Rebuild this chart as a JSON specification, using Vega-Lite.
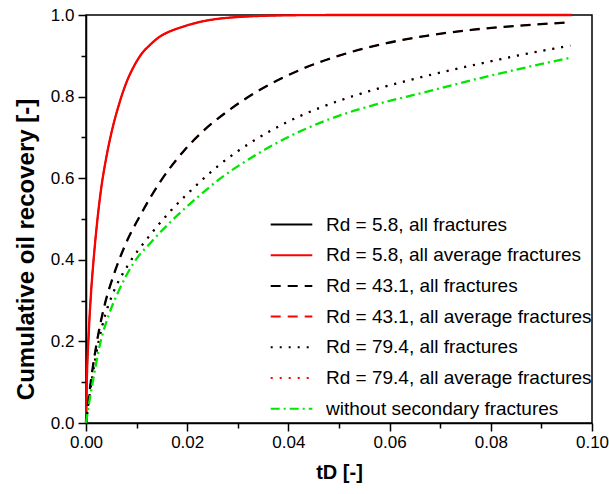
{
  "$schema": "https://vega.github.io/schema/vega-lite/v6.json",
  "width": 506,
  "height": 408,
  "autosize": {"type": "none"},
  "padding": {"left": 86, "top": 15, "right": 17, "bottom": 71},
  "background": "white",
  "config": {"view": {"stroke": "black", "strokeWidth": 1.5}, "font": "Liberation Sans"},
  "datasets": {
    "curves": [
      {"s": "Rd = 5.8, all fractures", "t": 0, "r": 0},
      {"s": "Rd = 5.8, all fractures", "t": 0.0002, "r": 0.12},
      {"s": "Rd = 5.8, all fractures", "t": 0.0005, "r": 0.21},
      {"s": "Rd = 5.8, all fractures", "t": 0.001, "r": 0.32},
      {"s": "Rd = 5.8, all fractures", "t": 0.0015, "r": 0.40},
      {"s": "Rd = 5.8, all fractures", "t": 0.0021, "r": 0.48},
      {"s": "Rd = 5.8, all fractures", "t": 0.003, "r": 0.575},
      {"s": "Rd = 5.8, all fractures", "t": 0.004, "r": 0.65},
      {"s": "Rd = 5.8, all fractures", "t": 0.005, "r": 0.71},
      {"s": "Rd = 5.8, all fractures", "t": 0.0065, "r": 0.78},
      {"s": "Rd = 5.8, all fractures", "t": 0.008, "r": 0.835},
      {"s": "Rd = 5.8, all fractures", "t": 0.0095, "r": 0.875},
      {"s": "Rd = 5.8, all fractures", "t": 0.011, "r": 0.905},
      {"s": "Rd = 5.8, all fractures", "t": 0.0125, "r": 0.925},
      {"s": "Rd = 5.8, all fractures", "t": 0.0146, "r": 0.947},
      {"s": "Rd = 5.8, all fractures", "t": 0.0166, "r": 0.96},
      {"s": "Rd = 5.8, all fractures", "t": 0.0186, "r": 0.969},
      {"s": "Rd = 5.8, all fractures", "t": 0.0225, "r": 0.983},
      {"s": "Rd = 5.8, all fractures", "t": 0.0263, "r": 0.991},
      {"s": "Rd = 5.8, all fractures", "t": 0.03, "r": 0.995},
      {"s": "Rd = 5.8, all fractures", "t": 0.035, "r": 0.998},
      {"s": "Rd = 5.8, all fractures", "t": 0.042, "r": 0.9995},
      {"s": "Rd = 5.8, all fractures", "t": 0.05, "r": 1},
      {"s": "Rd = 5.8, all fractures", "t": 0.07, "r": 1},
      {"s": "Rd = 5.8, all fractures", "t": 0.096, "r": 1},
      {"s": "Rd = 5.8, all average fractures", "t": 0, "r": 0},
      {"s": "Rd = 5.8, all average fractures", "t": 0.0002, "r": 0.12},
      {"s": "Rd = 5.8, all average fractures", "t": 0.0005, "r": 0.21},
      {"s": "Rd = 5.8, all average fractures", "t": 0.001, "r": 0.32},
      {"s": "Rd = 5.8, all average fractures", "t": 0.0015, "r": 0.40},
      {"s": "Rd = 5.8, all average fractures", "t": 0.0021, "r": 0.48},
      {"s": "Rd = 5.8, all average fractures", "t": 0.003, "r": 0.575},
      {"s": "Rd = 5.8, all average fractures", "t": 0.004, "r": 0.65},
      {"s": "Rd = 5.8, all average fractures", "t": 0.005, "r": 0.71},
      {"s": "Rd = 5.8, all average fractures", "t": 0.0065, "r": 0.78},
      {"s": "Rd = 5.8, all average fractures", "t": 0.008, "r": 0.835},
      {"s": "Rd = 5.8, all average fractures", "t": 0.0095, "r": 0.875},
      {"s": "Rd = 5.8, all average fractures", "t": 0.011, "r": 0.905},
      {"s": "Rd = 5.8, all average fractures", "t": 0.0125, "r": 0.925},
      {"s": "Rd = 5.8, all average fractures", "t": 0.0146, "r": 0.947},
      {"s": "Rd = 5.8, all average fractures", "t": 0.0166, "r": 0.96},
      {"s": "Rd = 5.8, all average fractures", "t": 0.0186, "r": 0.969},
      {"s": "Rd = 5.8, all average fractures", "t": 0.0225, "r": 0.983},
      {"s": "Rd = 5.8, all average fractures", "t": 0.0263, "r": 0.991},
      {"s": "Rd = 5.8, all average fractures", "t": 0.03, "r": 0.995},
      {"s": "Rd = 5.8, all average fractures", "t": 0.035, "r": 0.998},
      {"s": "Rd = 5.8, all average fractures", "t": 0.042, "r": 0.9995},
      {"s": "Rd = 5.8, all average fractures", "t": 0.05, "r": 1},
      {"s": "Rd = 5.8, all average fractures", "t": 0.07, "r": 1},
      {"s": "Rd = 5.8, all average fractures", "t": 0.096, "r": 1},
      {"s": "Rd = 43.1, all average fractures", "t": 0, "r": 0},
      {"s": "Rd = 43.1, all average fractures", "t": 0.0005, "r": 0.056},
      {"s": "Rd = 43.1, all average fractures", "t": 0.0011, "r": 0.115},
      {"s": "Rd = 43.1, all average fractures", "t": 0.0021, "r": 0.195},
      {"s": "Rd = 43.1, all average fractures", "t": 0.0038, "r": 0.295},
      {"s": "Rd = 43.1, all average fractures", "t": 0.0054, "r": 0.36},
      {"s": "Rd = 43.1, all average fractures", "t": 0.0077, "r": 0.435},
      {"s": "Rd = 43.1, all average fractures", "t": 0.011, "r": 0.515},
      {"s": "Rd = 43.1, all average fractures", "t": 0.0146, "r": 0.59},
      {"s": "Rd = 43.1, all average fractures", "t": 0.0192, "r": 0.665},
      {"s": "Rd = 43.1, all average fractures", "t": 0.0231, "r": 0.715},
      {"s": "Rd = 43.1, all average fractures", "t": 0.0283, "r": 0.767},
      {"s": "Rd = 43.1, all average fractures", "t": 0.0343, "r": 0.816},
      {"s": "Rd = 43.1, all average fractures", "t": 0.0422, "r": 0.865},
      {"s": "Rd = 43.1, all average fractures", "t": 0.0515, "r": 0.906},
      {"s": "Rd = 43.1, all average fractures", "t": 0.0594, "r": 0.931},
      {"s": "Rd = 43.1, all average fractures", "t": 0.0673, "r": 0.949},
      {"s": "Rd = 43.1, all average fractures", "t": 0.0765, "r": 0.964},
      {"s": "Rd = 43.1, all average fractures", "t": 0.0858, "r": 0.974},
      {"s": "Rd = 43.1, all average fractures", "t": 0.0957, "r": 0.982},
      {"s": "Rd = 43.1, all fractures", "t": 0, "r": 0},
      {"s": "Rd = 43.1, all fractures", "t": 0.0005, "r": 0.056},
      {"s": "Rd = 43.1, all fractures", "t": 0.0011, "r": 0.115},
      {"s": "Rd = 43.1, all fractures", "t": 0.0021, "r": 0.195},
      {"s": "Rd = 43.1, all fractures", "t": 0.0038, "r": 0.295},
      {"s": "Rd = 43.1, all fractures", "t": 0.0054, "r": 0.36},
      {"s": "Rd = 43.1, all fractures", "t": 0.0077, "r": 0.435},
      {"s": "Rd = 43.1, all fractures", "t": 0.011, "r": 0.515},
      {"s": "Rd = 43.1, all fractures", "t": 0.0146, "r": 0.59},
      {"s": "Rd = 43.1, all fractures", "t": 0.0192, "r": 0.665},
      {"s": "Rd = 43.1, all fractures", "t": 0.0231, "r": 0.715},
      {"s": "Rd = 43.1, all fractures", "t": 0.0283, "r": 0.767},
      {"s": "Rd = 43.1, all fractures", "t": 0.0343, "r": 0.816},
      {"s": "Rd = 43.1, all fractures", "t": 0.0422, "r": 0.865},
      {"s": "Rd = 43.1, all fractures", "t": 0.0515, "r": 0.906},
      {"s": "Rd = 43.1, all fractures", "t": 0.0594, "r": 0.931},
      {"s": "Rd = 43.1, all fractures", "t": 0.0673, "r": 0.949},
      {"s": "Rd = 43.1, all fractures", "t": 0.0765, "r": 0.964},
      {"s": "Rd = 43.1, all fractures", "t": 0.0858, "r": 0.974},
      {"s": "Rd = 43.1, all fractures", "t": 0.0957, "r": 0.982},
      {"s": "Rd = 79.4, all average fractures", "t": 0, "r": 0},
      {"s": "Rd = 79.4, all average fractures", "t": 0.0005, "r": 0.05},
      {"s": "Rd = 79.4, all average fractures", "t": 0.0012, "r": 0.11},
      {"s": "Rd = 79.4, all average fractures", "t": 0.0025, "r": 0.2},
      {"s": "Rd = 79.4, all average fractures", "t": 0.0038, "r": 0.265},
      {"s": "Rd = 79.4, all average fractures", "t": 0.0054, "r": 0.32},
      {"s": "Rd = 79.4, all average fractures", "t": 0.0082, "r": 0.385},
      {"s": "Rd = 79.4, all average fractures", "t": 0.0123, "r": 0.455},
      {"s": "Rd = 79.4, all average fractures", "t": 0.0166, "r": 0.518},
      {"s": "Rd = 79.4, all average fractures", "t": 0.0215, "r": 0.579},
      {"s": "Rd = 79.4, all average fractures", "t": 0.0263, "r": 0.632},
      {"s": "Rd = 79.4, all average fractures", "t": 0.0329, "r": 0.69},
      {"s": "Rd = 79.4, all average fractures", "t": 0.0395, "r": 0.736},
      {"s": "Rd = 79.4, all average fractures", "t": 0.0461, "r": 0.772},
      {"s": "Rd = 79.4, all average fractures", "t": 0.0515, "r": 0.796},
      {"s": "Rd = 79.4, all average fractures", "t": 0.0581, "r": 0.821},
      {"s": "Rd = 79.4, all average fractures", "t": 0.0667, "r": 0.849},
      {"s": "Rd = 79.4, all average fractures", "t": 0.0765, "r": 0.877},
      {"s": "Rd = 79.4, all average fractures", "t": 0.0851, "r": 0.9},
      {"s": "Rd = 79.4, all average fractures", "t": 0.0957, "r": 0.925},
      {"s": "Rd = 79.4, all fractures", "t": 0, "r": 0},
      {"s": "Rd = 79.4, all fractures", "t": 0.0005, "r": 0.05},
      {"s": "Rd = 79.4, all fractures", "t": 0.0012, "r": 0.11},
      {"s": "Rd = 79.4, all fractures", "t": 0.0025, "r": 0.2},
      {"s": "Rd = 79.4, all fractures", "t": 0.0038, "r": 0.265},
      {"s": "Rd = 79.4, all fractures", "t": 0.0054, "r": 0.32},
      {"s": "Rd = 79.4, all fractures", "t": 0.0082, "r": 0.385},
      {"s": "Rd = 79.4, all fractures", "t": 0.0123, "r": 0.455},
      {"s": "Rd = 79.4, all fractures", "t": 0.0166, "r": 0.518},
      {"s": "Rd = 79.4, all fractures", "t": 0.0215, "r": 0.579},
      {"s": "Rd = 79.4, all fractures", "t": 0.0263, "r": 0.632},
      {"s": "Rd = 79.4, all fractures", "t": 0.0329, "r": 0.69},
      {"s": "Rd = 79.4, all fractures", "t": 0.0395, "r": 0.736},
      {"s": "Rd = 79.4, all fractures", "t": 0.0461, "r": 0.772},
      {"s": "Rd = 79.4, all fractures", "t": 0.0515, "r": 0.796},
      {"s": "Rd = 79.4, all fractures", "t": 0.0581, "r": 0.821},
      {"s": "Rd = 79.4, all fractures", "t": 0.0667, "r": 0.849},
      {"s": "Rd = 79.4, all fractures", "t": 0.0765, "r": 0.877},
      {"s": "Rd = 79.4, all fractures", "t": 0.0851, "r": 0.9},
      {"s": "Rd = 79.4, all fractures", "t": 0.0957, "r": 0.925},
      {"s": "without secondary fractures", "t": 0, "r": 0},
      {"s": "without secondary fractures", "t": 0.0005, "r": 0.04},
      {"s": "without secondary fractures", "t": 0.0014, "r": 0.105},
      {"s": "without secondary fractures", "t": 0.0028, "r": 0.195},
      {"s": "without secondary fractures", "t": 0.0045, "r": 0.265},
      {"s": "without secondary fractures", "t": 0.0064, "r": 0.322},
      {"s": "without secondary fractures", "t": 0.0093, "r": 0.39},
      {"s": "without secondary fractures", "t": 0.013, "r": 0.445},
      {"s": "without secondary fractures", "t": 0.0173, "r": 0.5},
      {"s": "without secondary fractures", "t": 0.0222, "r": 0.555},
      {"s": "without secondary fractures", "t": 0.0263, "r": 0.597},
      {"s": "without secondary fractures", "t": 0.0329, "r": 0.652},
      {"s": "without secondary fractures", "t": 0.0395, "r": 0.698},
      {"s": "without secondary fractures", "t": 0.0461, "r": 0.735},
      {"s": "without secondary fractures", "t": 0.0514, "r": 0.759},
      {"s": "without secondary fractures", "t": 0.0568, "r": 0.779},
      {"s": "without secondary fractures", "t": 0.0667, "r": 0.81},
      {"s": "without secondary fractures", "t": 0.0765, "r": 0.841},
      {"s": "without secondary fractures", "t": 0.0864, "r": 0.87},
      {"s": "without secondary fractures", "t": 0.0957, "r": 0.895}
    ]
  },
  "data": {"name": "curves"},
  "layer": [
    {
      "encoding": {
        "x": {
          "field": "t", "type": "quantitative",
          "scale": {"domain": [0, 0.1], "nice": false, "zero": false},
          "axis": {
            "values": [0, 0.02, 0.04, 0.06, 0.08, 0.1],
            "format": ".2f",
            "labelFont": "Liberation Sans", "labelFontSize": 17, "labelColor": "black",
            "labelPadding": 3, "labelFlush": false,
            "tickColor": "black", "tickSize": 8, "tickWidth": 1.5,
            "domainColor": "black", "domainWidth": 1.5, "grid": false,
            "title": "tD [-]", "titleFont": "Liberation Sans", "titleFontSize": 20,
            "titleFontWeight": "bold", "titleColor": "black", "titlePadding": 12
          }
        },
        "y": {
          "field": "r", "type": "quantitative",
          "scale": {"domain": [0, 1], "nice": false},
          "axis": {
            "values": [0, 0.2, 0.4, 0.6, 0.8, 1.0],
            "format": ".1f",
            "labelFont": "Liberation Sans", "labelFontSize": 17, "labelColor": "black",
            "labelPadding": 4, "labelFlush": false,
            "tickColor": "black", "tickSize": 8, "tickWidth": 1.5,
            "domainColor": "black", "domainWidth": 1.5, "grid": false,
            "title": "Cumulative oil recovery [-]", "titleFont": "Liberation Sans",
            "titleFontSize": 24, "titleFontWeight": "bold", "titleColor": "black",
            "titlePadding": 12, "titleY": 234
          }
        },
        "color": {
          "field": "s", "type": "nominal",
          "scale": {
            "domain": ["Rd = 5.8, all fractures", "Rd = 5.8, all average fractures", "Rd = 43.1, all fractures", "Rd = 43.1, all average fractures", "Rd = 79.4, all fractures", "Rd = 79.4, all average fractures", "without secondary fractures"],
            "range": ["#000000", "#ff0000", "#000000", "#ff0000", "#000000", "#ff0000", "#00e600"]
          },
          "legend": {
            "orient": "none", "legendX": 196, "legendY": 200, "title": null,
            "labelFont": "Liberation Sans", "labelFontSize": 19, "labelColor": "black", "labelLimit": 400,
            "symbolType": "M-2.6,0H2.6", "symbolSize": 256, "symbolStrokeWidth": 2,
            "rowPadding": 10.7, "labelOffset": 25, "padding": 0
          }
        },
        "strokeDash": {
          "field": "s", "type": "nominal",
          "scale": {
            "domain": ["Rd = 5.8, all fractures", "Rd = 5.8, all average fractures", "Rd = 43.1, all fractures", "Rd = 43.1, all average fractures", "Rd = 79.4, all fractures", "Rd = 79.4, all average fractures", "without secondary fractures"],
            "range": [[1, 0], [1, 0], [10, 7], [10, 7], [2, 7], [2, 7], [9, 4, 2, 4]]
          }
        }
      },
      "layer": [
        {
          "transform": [{"filter": {"field": "s", "oneOf": ["Rd = 5.8, all fractures", "Rd = 43.1, all average fractures", "Rd = 79.4, all average fractures"]}}],
          "mark": {"type": "line", "interpolate": "monotone", "strokeWidth": 1.5, "strokeCap": "butt"}
        },
        {
          "transform": [{"filter": {"field": "s", "oneOf": ["Rd = 5.8, all average fractures", "Rd = 43.1, all fractures", "Rd = 79.4, all fractures", "without secondary fractures"]}}],
          "mark": {"type": "line", "interpolate": "monotone", "strokeWidth": 2.3, "strokeCap": "butt"}
        }
      ]
    },
    {
      "mark": {"type": "point", "opacity": 0},
      "encoding": {
        "x": {
          "field": "t", "type": "quantitative",
          "axis": {
            "orient": "bottom", "values": [0.01, 0.03, 0.05, 0.07, 0.09], "labels": false,
            "domain": false, "grid": false, "tickColor": "black", "tickSize": 5, "tickWidth": 1.5, "title": null
          }
        },
        "y": {
          "field": "r", "type": "quantitative",
          "axis": {
            "orient": "left", "values": [0.1, 0.3, 0.5, 0.7, 0.9], "labels": false,
            "domain": false, "grid": false, "tickColor": "black", "tickSize": 5, "tickWidth": 1.5, "title": null
          }
        }
      }
    }
  ],
  "resolve": {"axis": {"x": "independent", "y": "independent"}}
}
